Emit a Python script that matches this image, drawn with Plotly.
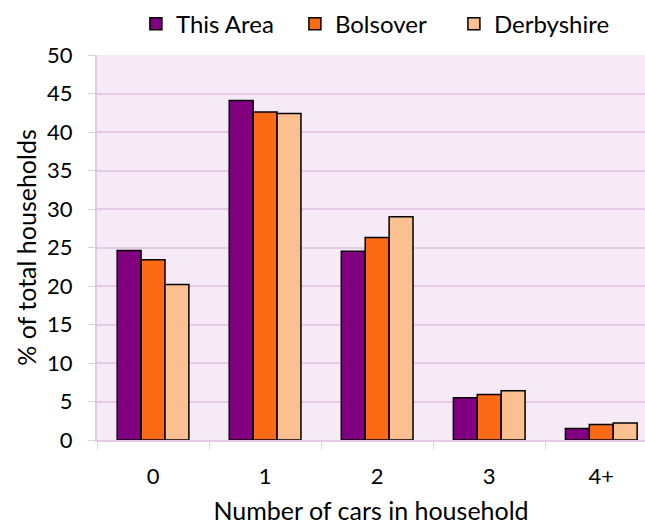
import plotly.graph_objects as go

categories = ["0", "1", "2", "3", "4+"]
this_area = [24.6, 44.1, 24.5, 5.5, 1.5]
bolsover = [23.4, 42.6, 26.3, 5.9, 2.0]
derbyshire = [20.2, 42.4, 29.0, 6.4, 2.2]

series = [
    ("This Area", this_area, "#800080"),
    ("Bolsover", bolsover, "#FD6A15"),
    ("Derbyshire", derbyshire, "#FAC091"),
]

pink_line = "#E5C9E5"

fig = go.Figure()
for name, vals, col in series:
    fig.add_trace(go.Bar(
        x=categories, y=vals, name=name,
        marker=dict(color=col, line=dict(color="#000000", width=1.5)),
    ))

fig.update_layout(
    width=645, height=525,
    margin=dict(l=97, r=0, t=55, b=85),
    paper_bgcolor="white",
    plot_bgcolor="#F6EAF6",
    font=dict(family="Lato, Carlito, Calibri, sans-serif", size=21, color="#000000"),
    barmode="group",
    bargap=0.36,
    bargroupgap=0,
    legend=dict(
        orientation="h", x=0.071, xanchor="left", y=1.08, yanchor="middle",
        font=dict(size=24), itemwidth=30, entrywidth=114, traceorder="normal",
    ),
    xaxis=dict(
        range=[-0.5, 4.39],
        tickson="boundaries", ticks="outside", ticklen=7, tickcolor=pink_line,
        ticklabelstandoff=16, tickfont=dict(size=22),
        showline=True, linecolor=pink_line, linewidth=2,
        title=dict(text="Number of cars in household", standoff=25),
        showgrid=False, automargin=False,
    ),
    yaxis=dict(
        range=[0, 50], dtick=5,
        ticks="outside", ticklen=7, tickcolor=pink_line,
        ticklabelstandoff=11, tickfont=dict(size=22),
        showline=True, linecolor=pink_line, linewidth=2,
        gridcolor=pink_line, gridwidth=2,
        title=dict(text="% of total households", standoff=3),
        zeroline=False, automargin=False,
    ),
)

# drop the default page margin so the figure fills the window
fig.write_html(
    "out.html",
    config={"displayModeBar": False},
    post_script="document.body.style.margin='0';document.body.style.overflow='hidden';",
)
